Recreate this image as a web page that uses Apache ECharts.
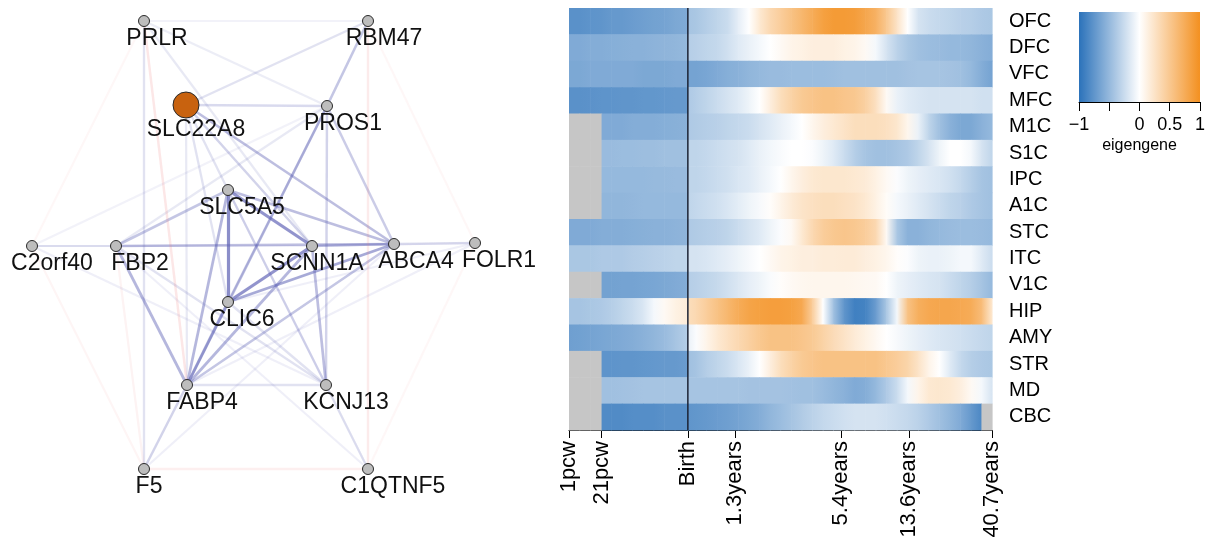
<!DOCTYPE html>
<html><head><meta charset="utf-8">
<script src="https://cdn.jsdelivr.net/npm/echarts@6/dist/echarts.min.js"></script>
<style>html,body{margin:0;padding:0;background:#fff}#c{width:1208px;height:543px}</style>
</head><body><div id="c"></div>
<script>
// ---------------- DATA ----------------
// Network genes and layout coordinates
const geneNames = ['PRLR','RBM47','SLC22A8','PROS1','SLC5A5','C2orf40','FBP2','SCNN1A','ABCA4','FOLR1','CLIC6','FABP4','KCNJ13','F5','C1QTNF5'];
const geneX = [144, 368, 186, 327, 228, 32, 116, 312, 394, 475, 228, 187, 326, 144, 368];
const geneY = [21, 21, 105, 106, 190, 246, 246, 246, 244, 243, 302, 385, 385, 469, 469];
const seedGene = 'SLC22A8';
// links: [source, target, strength, sign(+1 positive / -1 negative)]
const links = [
  ['SLC5A5','CLIC6',0.8,1], ['SLC5A5','SCNN1A',0.75,1], ['SCNN1A','CLIC6',0.75,1],
  ['CLIC6','ABCA4',0.6,1], ['FBP2','ABCA4',0.45,1], ['SCNN1A','ABCA4',0.4,1],
  ['FBP2','SLC5A5',0.4,1], ['SLC5A5','ABCA4',0.45,1], ['FABP4','CLIC6',0.55,1],
  ['FABP4','SLC5A5',0.5,1], ['FABP4','SCNN1A',0.5,1], ['FABP4','ABCA4',0.4,1],
  ['FABP4','FBP2',0.5,1], ['FABP4','PROS1',0.4,1], ['PROS1','RBM47',0.4,1],
  ['SCNN1A','KCNJ13',0.45,1], ['PROS1','KCNJ13',0.3,1], ['PROS1','ABCA4',0.35,1],
  ['SLC22A8','ABCA4',0.45,1], ['SLC22A8','PROS1',0.25,1], ['SLC22A8','RBM47',0.2,1],
  ['SLC22A8','SCNN1A',0.3,1], ['SLC22A8','CLIC6',0.2,1], ['SLC22A8','FABP4',0.15,1],
  ['SLC22A8','SLC5A5',0.2,1], ['PRLR','PROS1',0.12,1], ['PRLR','SCNN1A',0.15,1],
  ['PRLR','RBM47',0.08,1], ['PRLR','F5',0.2,1], ['PROS1','CLIC6',0.3,1],
  ['PROS1','FBP2',0.15,1], ['SLC5A5','KCNJ13',0.25,1], ['CLIC6','KCNJ13',0.2,1],
  ['FBP2','KCNJ13',0.2,1], ['FABP4','KCNJ13',0.2,1], ['FABP4','F5',0.3,1],
  ['KCNJ13','C1QTNF5',0.15,1], ['ABCA4','FOLR1',0.2,1], ['FOLR1','CLIC6',0.1,1],
  ['FOLR1','FABP4',0.1,1], ['C2orf40','FBP2',0.15,1], ['C2orf40','SCNN1A',0.1,1],
  ['C2orf40','KCNJ13',0.1,1], ['C2orf40','PROS1',0.08,1], ['F5','ABCA4',0.1,1],
  ['C1QTNF5','FBP2',0.1,1], ['C1QTNF5','SLC5A5',0.1,1], ['SCNN1A','FOLR1',0.1,1],
  ['PRLR','FABP4',0.3,-1], ['RBM47','C1QTNF5',0.25,-1], ['PRLR','C2orf40',0.1,-1],
  ['C2orf40','F5',0.12,-1], ['FBP2','F5',0.15,-1], ['F5','C1QTNF5',0.2,-1],
  ['RBM47','FOLR1',0.1,-1], ['FOLR1','C1QTNF5',0.1,-1]
];

// Heatmap: brain regions and developmental time axis
const regions = ['OFC','DFC','VFC','MFC','M1C','S1C','IPC','A1C','STC','ITC','V1C','HIP','AMY','STR','MD','CBC'];
const tickPos = [0, 7.7, 28.1, 39.2, 64.3, 80.4, 100];
const tickLabels = ['1pcw','21pcw','Birth','1.3years','5.4years','13.6years','40.7years'];
const birthPos = 28.1;
// sample positions along the time axis (Birth appears twice: prenatal end / postnatal start)
const samplePos = [0,2.5,5,7.7,10,12.5,15,17.5,20,22.5,25,28.1, 28.1,30,32.5,35,37.5,40,42.5,45,47.5,50,52.5,55,57.5,60,62.5,65,67.5,70,72.5,75,77.5,80,82.5,85,87.5,90,92.5,95,97.5,100];
// eigengene values per region (null = no data)
const OFC = [-0.78,-0.78,-0.76,-0.75,-0.72,-0.72,-0.7,-0.68,-0.66,-0.65,-0.62,-0.6, -0.42,-0.4,-0.35,-0.3,-0.25,-0.12,0.0,0.2,0.35,0.45,0.55,0.65,0.75,0.85,0.9,0.9,0.88,0.8,0.7,0.5,0.25,0.0,-0.2,-0.25,-0.28,-0.3,-0.33,-0.35,-0.38,-0.4];
const DFC = [-0.6,-0.6,-0.58,-0.58,-0.57,-0.56,-0.55,-0.55,-0.54,-0.53,-0.52,-0.5, -0.35,-0.33,-0.3,-0.28,-0.22,-0.15,-0.1,-0.05,0.0,0.05,0.1,0.12,0.15,0.15,0.15,0.12,0.1,0.05,-0.05,-0.2,-0.32,-0.4,-0.45,-0.47,-0.48,-0.5,-0.5,-0.52,-0.55,-0.58];
const VFC = [-0.62,-0.62,-0.6,-0.6,-0.6,-0.6,-0.6,-0.62,-0.62,-0.62,-0.6,-0.6, -0.65,-0.65,-0.63,-0.6,-0.57,-0.55,-0.52,-0.5,-0.48,-0.48,-0.47,-0.47,-0.47,-0.47,-0.46,-0.45,-0.45,-0.45,-0.45,-0.45,-0.45,-0.43,-0.42,-0.42,-0.42,-0.43,-0.45,-0.5,-0.58,-0.65];
const MFC = [-0.78,-0.78,-0.77,-0.76,-0.76,-0.75,-0.75,-0.74,-0.74,-0.73,-0.72,-0.72, -0.38,-0.35,-0.3,-0.25,-0.2,-0.15,-0.08,0.0,0.15,0.3,0.4,0.48,0.52,0.55,0.55,0.52,0.5,0.42,0.28,0.05,-0.1,-0.15,-0.18,-0.2,-0.2,-0.2,-0.2,-0.2,-0.22,-0.22];
const M1C = [null,null,null,-0.6,-0.6,-0.6,-0.58,-0.58,-0.58,-0.57,-0.56,-0.55, -0.38,-0.37,-0.35,-0.33,-0.3,-0.28,-0.25,-0.2,-0.15,-0.1,-0.05,0.0,0.08,0.15,0.2,0.25,0.3,0.3,0.3,0.28,0.22,0.08,-0.1,-0.3,-0.45,-0.55,-0.62,-0.62,-0.55,-0.5];
const S1C = [null,null,null,-0.48,-0.48,-0.47,-0.47,-0.46,-0.46,-0.45,-0.45,-0.45, -0.3,-0.3,-0.28,-0.25,-0.22,-0.2,-0.15,-0.1,-0.06,-0.03,0.0,0.0,-0.02,-0.08,-0.15,-0.25,-0.35,-0.42,-0.45,-0.45,-0.42,-0.38,-0.3,-0.2,-0.08,0.0,0.0,-0.05,-0.2,-0.3];
const IPC = [null,null,null,-0.5,-0.5,-0.5,-0.5,-0.5,-0.49,-0.49,-0.48,-0.48, -0.3,-0.3,-0.28,-0.25,-0.22,-0.18,-0.15,-0.1,-0.05,0.0,0.08,0.15,0.2,0.22,0.22,0.22,0.2,0.18,0.12,0.05,-0.02,-0.08,-0.12,-0.15,-0.18,-0.22,-0.28,-0.35,-0.42,-0.45];
const A1C = [null,null,null,-0.52,-0.52,-0.52,-0.51,-0.5,-0.5,-0.5,-0.5,-0.5, -0.3,-0.28,-0.25,-0.22,-0.18,-0.13,-0.08,-0.04,0.02,0.1,0.18,0.24,0.28,0.3,0.3,0.28,0.25,0.2,0.12,0.03,-0.05,-0.1,-0.15,-0.2,-0.25,-0.3,-0.33,-0.38,-0.42,-0.45];
const STC = [-0.6,-0.6,-0.6,-0.58,-0.58,-0.58,-0.57,-0.56,-0.55,-0.55,-0.54,-0.53, -0.38,-0.37,-0.35,-0.33,-0.3,-0.25,-0.2,-0.15,-0.08,-0.02,0.05,0.2,0.35,0.45,0.5,0.52,0.5,0.45,0.35,0.05,-0.4,-0.55,-0.55,-0.52,-0.5,-0.48,-0.47,-0.47,-0.48,-0.5];
const ITC = [-0.4,-0.4,-0.4,-0.38,-0.38,-0.38,-0.36,-0.35,-0.33,-0.32,-0.3,-0.3, -0.2,-0.2,-0.18,-0.15,-0.12,-0.08,-0.04,0.0,0.05,0.1,0.12,0.15,0.15,0.17,0.17,0.18,0.18,0.15,0.12,0.08,0.02,-0.02,-0.08,-0.1,-0.1,-0.08,-0.05,-0.05,-0.15,-0.25];
const V1C = [null,null,null,-0.66,-0.66,-0.65,-0.65,-0.64,-0.63,-0.62,-0.6,-0.58, -0.35,-0.33,-0.3,-0.27,-0.22,-0.17,-0.12,-0.08,-0.03,0.02,0.05,0.07,0.08,0.08,0.08,0.08,0.07,0.06,0.05,0.0,-0.08,-0.12,-0.15,-0.18,-0.2,-0.25,-0.3,-0.35,-0.42,-0.5];
const HIP = [-0.42,-0.42,-0.4,-0.38,-0.35,-0.3,-0.25,-0.18,-0.05,0.05,0.12,0.18, 0.3,0.35,0.45,0.55,0.65,0.75,0.82,0.85,0.87,0.87,0.85,0.78,0.45,0.0,-0.45,-0.75,-0.9,-0.88,-0.7,-0.4,-0.05,0.55,0.72,0.78,0.8,0.8,0.78,0.75,0.6,0.2];
const AMY = [-0.68,-0.67,-0.65,-0.63,-0.62,-0.6,-0.58,-0.55,-0.52,-0.48,-0.42,-0.35, -0.1,-0.02,0.1,0.2,0.28,0.35,0.42,0.5,0.55,0.55,0.55,0.52,0.48,0.4,0.32,0.25,0.18,0.12,0.06,0.0,-0.04,-0.08,-0.12,-0.15,-0.18,-0.2,-0.22,-0.25,-0.28,-0.3];
const STR = [null,null,null,-0.76,-0.76,-0.75,-0.75,-0.74,-0.73,-0.72,-0.72,-0.7, -0.45,-0.42,-0.35,-0.3,-0.25,-0.18,-0.1,0.0,0.15,0.3,0.4,0.48,0.52,0.55,0.55,0.55,0.55,0.55,0.55,0.5,0.45,0.38,0.25,0.1,0.0,-0.15,-0.28,-0.35,-0.38,-0.4];
const MD  = [null,null,null,-0.45,-0.45,-0.44,-0.43,-0.42,-0.42,-0.42,-0.42,-0.42, -0.42,-0.42,-0.42,-0.42,-0.42,-0.42,-0.43,-0.43,-0.43,-0.43,-0.44,-0.45,-0.45,-0.48,-0.52,-0.55,-0.6,-0.58,-0.5,-0.38,-0.25,-0.05,0.1,0.2,0.22,0.2,0.15,0.05,-0.05,-0.2];
const CBC = [null,null,null,-0.82,-0.82,-0.82,-0.8,-0.8,-0.8,-0.78,-0.78,-0.78, -0.75,-0.74,-0.72,-0.7,-0.68,-0.65,-0.62,-0.58,-0.52,-0.47,-0.42,-0.37,-0.32,-0.28,-0.25,-0.22,-0.2,-0.2,-0.2,-0.22,-0.25,-0.28,-0.32,-0.38,-0.45,-0.52,-0.6,-0.72,-0.85,null];
const regionValues = [OFC,DFC,VFC,MFC,M1C,S1C,IPC,A1C,STC,ITC,V1C,HIP,AMY,STR,MD,CBC];

// ---------------- STYLE ----------------
const FONT = 'Liberation Sans, Arial, sans-serif';
const BLUE = '#2b72ba', WHITE = '#ffffff', ORANGE = '#f39020', MISSING = '#c6c6c6';
const labelShiftX = {PRLR:13, RBM47:16, SLC22A8:10, PROS1:16, SLC5A5:14, C2orf40:20, FBP2:24, SCNN1A:5, ABCA4:22, FOLR1:24, CLIC6:14, FABP4:15, KCNJ13:20, F5:5, C1QTNF5:25};
function colorOf(v){ return echarts.color.lerp((v + 1) / 2, [BLUE, WHITE, ORANGE]); }

// ---------------- BUILD ----------------
const nodes = geneNames.map((n, i) => {
  const seed = n === seedGene;
  return {
    name: n, x: geneX[i], y: geneY[i],
    symbolSize: seed ? 26 : 11,
    itemStyle: { color: seed ? '#c8620f' : '#bdbdbd', borderColor: '#2a2a2a', borderWidth: 1 },
    label: { offset: [labelShiftX[n] || 0, 0] }
  };
});
const edges = links.map(l => ({
  source: l[0], target: l[1],
  lineStyle: {
    color: l[3] > 0 ? 'rgb(92,96,180)' : 'rgb(238,120,120)',
    width: 2 + l[2] * 1.5,
    opacity: l[3] > 0 ? 0.01 + 0.88 * l[2] : 0.6 * l[2]
  }
}));

const heatData = [];
const heatColors = [];
regionValues.forEach((vals, r) => {
  for (let k = 0; k < samplePos.length - 1; k++) {
    if (samplePos[k + 1] <= samplePos[k]) continue;
    heatData.push([samplePos[k], samplePos[k + 1], r]);
    heatColors.push([vals[k], vals[k + 1]]);
  }
});

const chart = echarts.init(document.getElementById('c'), null, { renderer: 'canvas' });
chart.setOption({
  animation: false,
  backgroundColor: '#fff',
  textStyle: { fontFamily: FONT },
  grid: [
    { left: 569, top: 8, width: 423, height: 422 },
    { left: 1079, top: 12, width: 124, height: 90 }
  ],
  xAxis: [
    {
      gridIndex: 0, type: 'value', min: 0, max: 100,
      splitLine: { show: false },
      axisLine: { show: true, onZero: false, lineStyle: { color: '#000', width: 1 } },
      axisTick: { show: true, customValues: tickPos, length: 8, lineStyle: { color: '#000', width: 1 } },
      axisLabel: {
        customValues: tickPos, rotate: 90, margin: 11, fontSize: 22, color: '#000', fontFamily: FONT,
        formatter: v => { const i = tickPos.findIndex(t => Math.abs(t - v) < 1e-6); return i >= 0 ? tickLabels[i] : ''; }
      }
    },
    {
      gridIndex: 1, type: 'value', min: -1, max: 1, interval: 0.5,
      splitLine: { show: false },
      axisLine: { show: true, onZero: false, lineStyle: { color: '#000', width: 1 } },
      axisTick: { show: true, length: 9, lineStyle: { color: '#000', width: 1 } },
      axisLabel: {
        margin: 14, fontSize: 18, color: '#000', fontFamily: FONT,
        formatter: v => (Math.abs(v + 0.5) < 1e-6 ? '' : (v < 0 ? '\u2212' + Math.abs(v) : String(v)))
      },
      name: 'eigengene', nameLocation: 'middle', nameGap: 36,
      nameTextStyle: { fontSize: 16, color: '#000', fontFamily: FONT }
    }
  ],
  yAxis: [
    {
      gridIndex: 0, type: 'category', data: regions, inverse: true, position: 'right',
      axisLine: { show: false }, axisTick: { show: false }, splitLine: { show: false },
      axisLabel: { margin: 17, fontSize: 20, color: '#000', fontFamily: FONT }
    },
    { gridIndex: 1, type: 'value', min: 0, max: 1, show: false }
  ],
  series: [
    {
      type: 'graph', layout: 'none', roam: false,
      left: 32, top: 21, width: 443, height: 448,
      data: nodes, links: edges,
      label: { show: true, position: 'bottom', distance: 0, fontSize: 23, color: '#111', fontFamily: FONT },
      lineStyle: { curveness: 0 },
      z: 2
    },
    {
      type: 'custom', xAxisIndex: 0, yAxisIndex: 0,
      dimensions: ['x0', 'x1', 'row'],
      data: heatData,
      encode: { x: ['x0', 'x1'], y: 'row' },
      renderItem: (params, api) => {
        const i = params.dataIndex;
        const p0 = api.coord([api.value(0), api.value(2)]);
        const p1 = api.coord([api.value(1), api.value(2)]);
        const h = api.size([0, 1])[1];
        const cv = heatColors[i];
        let fill;
        if (cv[0] == null || cv[1] == null) fill = MISSING;
        else fill = new echarts.graphic.LinearGradient(0, 0, 1, 0, [
          { offset: 0, color: colorOf(cv[0]) }, { offset: 1, color: colorOf(cv[1]) }
        ]);
        return {
          type: 'rect',
          shape: { x: p0[0], y: p0[1] - h / 2, width: p1[0] - p0[0] + 0.6, height: h + 0.5 },
          style: { fill: fill }
        };
      },
      z: 1
    },
    {
      type: 'custom', xAxisIndex: 0, yAxisIndex: 0,
      data: [[birthPos, 0]],
      renderItem: (params, api) => {
        const x = api.coord([api.value(0), 0])[0];
        const cs = params.coordSys;
        return {
          type: 'line',
          shape: { x1: x, y1: cs.y, x2: x, y2: cs.y + cs.height },
          style: { stroke: '#1b2233', lineWidth: 1.5 }
        };
      },
      z: 3
    },
    {
      type: 'custom', xAxisIndex: 1, yAxisIndex: 1,
      data: [[-1, 0, 1, 1]],
      renderItem: (params, api) => {
        const a = api.coord([api.value(0), api.value(3)]);
        const b = api.coord([api.value(2), api.value(1)]);
        return {
          type: 'rect',
          shape: { x: a[0], y: a[1], width: b[0] - a[0], height: b[1] - a[1] },
          style: { fill: new echarts.graphic.LinearGradient(0, 0, 1, 0, [
            { offset: 0, color: colorOf(-1) }, { offset: 0.5, color: colorOf(0) }, { offset: 1, color: colorOf(1) }
          ]) }
        };
      }
    }
  ]
});
</script></body></html>
